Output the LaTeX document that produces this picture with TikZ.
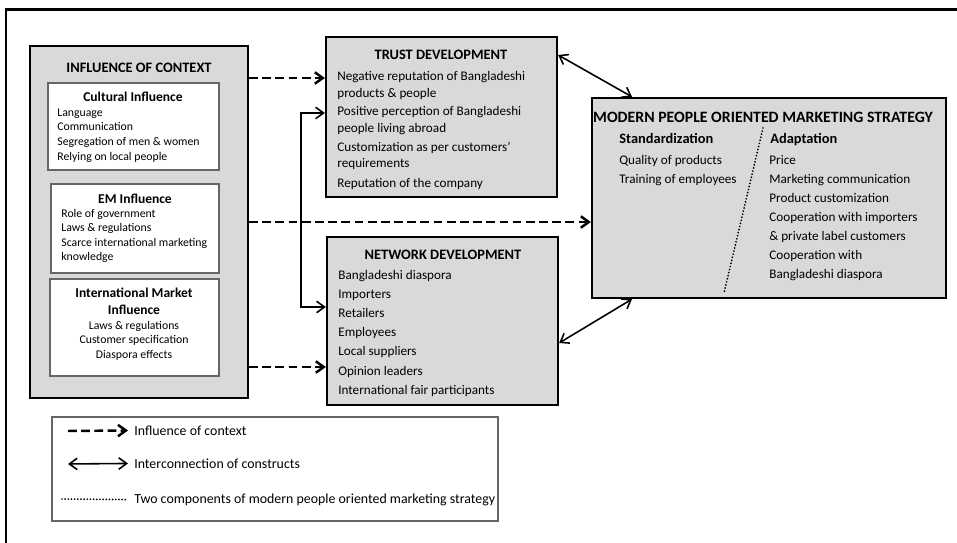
\documentclass[tikz,border=0pt]{standalone}
\usepackage{fontspec}
\setmainfont{Carlito}
\usetikzlibrary{arrows.meta,fit}

\begin{document}
\begin{tikzpicture}
  [x=0.02cm,y=-0.02cm,
   >={Straight Barb[length=4.5pt,width=6.5pt]},
   bigbox/.style={draw,line width=1.3pt,fill=black!15,inner sep=0pt},
   subbox/.style={draw=black!60,line width=0.6pt,fill=white,inner sep=0pt},
   head/.style={font=\fontsize{8.2}{9}\selectfont\bfseries,inner sep=0pt,anchor=mid},
   subhead/.style={font=\fontsize{7.7}{9}\selectfont\bfseries,inner sep=0pt,anchor=mid},
   item/.style={font=\fontsize{7.5}{9}\selectfont,inner sep=0pt,anchor=mid west},
   small/.style={font=\fontsize{6.7}{8}\selectfont,inner sep=0pt,anchor=mid west},
   keytext/.style={font=\fontsize{7.9}{9}\selectfont,inner sep=3.4pt,anchor=mid west},
   infl/.style={->,line width=1.4pt,dash pattern=on 5pt off 2.5pt},
   link/.style={<->,line width=0.9pt},
   twopart/.style={line width=1.1pt,line cap=round,dash pattern=on 0pt off 1.8pt}]

  \useasboundingbox (0,0) rectangle (957,543);
  \draw[line width=1.7pt] (6,543) -- (6,10) -- (957,10);

  % boxes
  \node (ctx)   [bigbox,fit={(30,46) (248,398)}] {};
  \node (cult)  [subbox,fit={(48,83) (219,170)}] {};
  \node (em)    [subbox,fit={(51,184) (219,273)}] {};
  \node (intl)  [subbox,fit={(50,279) (219,376)}] {};
  \node (trust) [bigbox,fit={(326,37) (557,197)}] {};
  \node (net)   [bigbox,fit={(327,237) (558,405)}] {};
  \node (mps)   [bigbox,fit={(592,98) (946,298)}] {};
  \node (key)   [subbox,fit={(52,417) (498,521)}] {};

  % context
  \node (ctx-h) [head] at (139,68) {INFLUENCE OF CONTEXT};
  \node (cult-h) [subhead] at (133,97) {Cultural Influence};
  \foreach \t [count=\i] in {Language,Communication,Segregation of men \& women,Relying on local people}
    \node (cult\i) [small] at (57,{112+14.7*(\i-1)}) {\t};
  \node (em-h) [subhead] at (135,199) {EM Influence};
  \foreach \t [count=\i] in {Role of government,Laws \& regulations,Scarce international marketing,knowledge}
    \node (em\i) [small] at (61,{213+14.6*(\i-1)}) {\t};
  \node (intl-h1) [subhead] at (134,293) {International Market};
  \node (intl-h2) [subhead] at (134,310) {Influence};
  \foreach \t [count=\i] in {Laws \& regulations,Customer specification,Diaspora effects}
    \node (intl\i) [small,anchor=mid] at (134,{325+14.5*(\i-1)}) {\t};

  % trust and network
  \node (trust-h) [head] at (441,55) {TRUST DEVELOPMENT};
  \foreach \y/\t [count=\i] in {76/Negative reputation of Bangladeshi,93/products \& people,
      111/Positive perception of Bangladeshi,128/people living abroad,
      147/Customization as per customers’,163/requirements,183/Reputation of the company}
    \node (tr\i) [item] at (337,\y) {\t};
  \node (net-h) [head] at (443,255) {NETWORK DEVELOPMENT};
  \foreach \t [count=\i] in {Bangladeshi diaspora,Importers,Retailers,Employees,
      Local suppliers,Opinion leaders,International fair participants}
    \node (nw\i) [item] at (338,{275+19.2*(\i-1)}) {\t};

  % strategy
  \node (mps-h) [head,font=\fontsize{9}{10}\selectfont\bfseries] at (763,118)
    {MODERN PEOPLE ORIENTED MARKETING STRATEGY};
  \node (std) [head,anchor=mid west] at (619,139) {Standardization};
  \node (std1) [item] at (619,160) {Quality of products};
  \node (std2) [item] at (619,179) {Training of employees};
  \node (adp) [head,anchor=mid west] at (770,139) {Adaptation};
  \foreach \t [count=\i] in {Price,Marketing communication,Product customization,
      Cooperation with importers,\& private label customers,Cooperation with,Bangladeshi diaspora}
    \node (adp\i) [item] at (769,{160+19.1*(\i-1)}) {\t};
  \draw[twopart] (763,128) -- (724,293);

  % connectors
  \foreach \to/\y in {trust/78,mps/222,net/367}
    \draw[infl] (ctx.east |- 0,\y) -- (\to.west |- 0,\y);
  \draw[link] (trust.west |- 0,113) -- ++(-24,0) |- (net.west |- 0,307);
  \draw[link] (trust.east |- 0,55) -- (mps.north -| 632,0);
  \draw[link] (net.east |- 0,343) -- (mps.south -| 632,0);

  % key
  \foreach \x/\y/\s/\t [count=\i] in {68/431/infl/Influence of context,
      68/464/link/Interconnection of constructs,
      62/499/twopart/Two components of modern people oriented marketing strategy} {
    \node (key\i) [keytext] at (128,\y) {\t};
    \coordinate (k\i) at (\x,\y);
    \draw[\s] (k\i) -- (key\i.west);
  }
\end{tikzpicture}
\end{document}
